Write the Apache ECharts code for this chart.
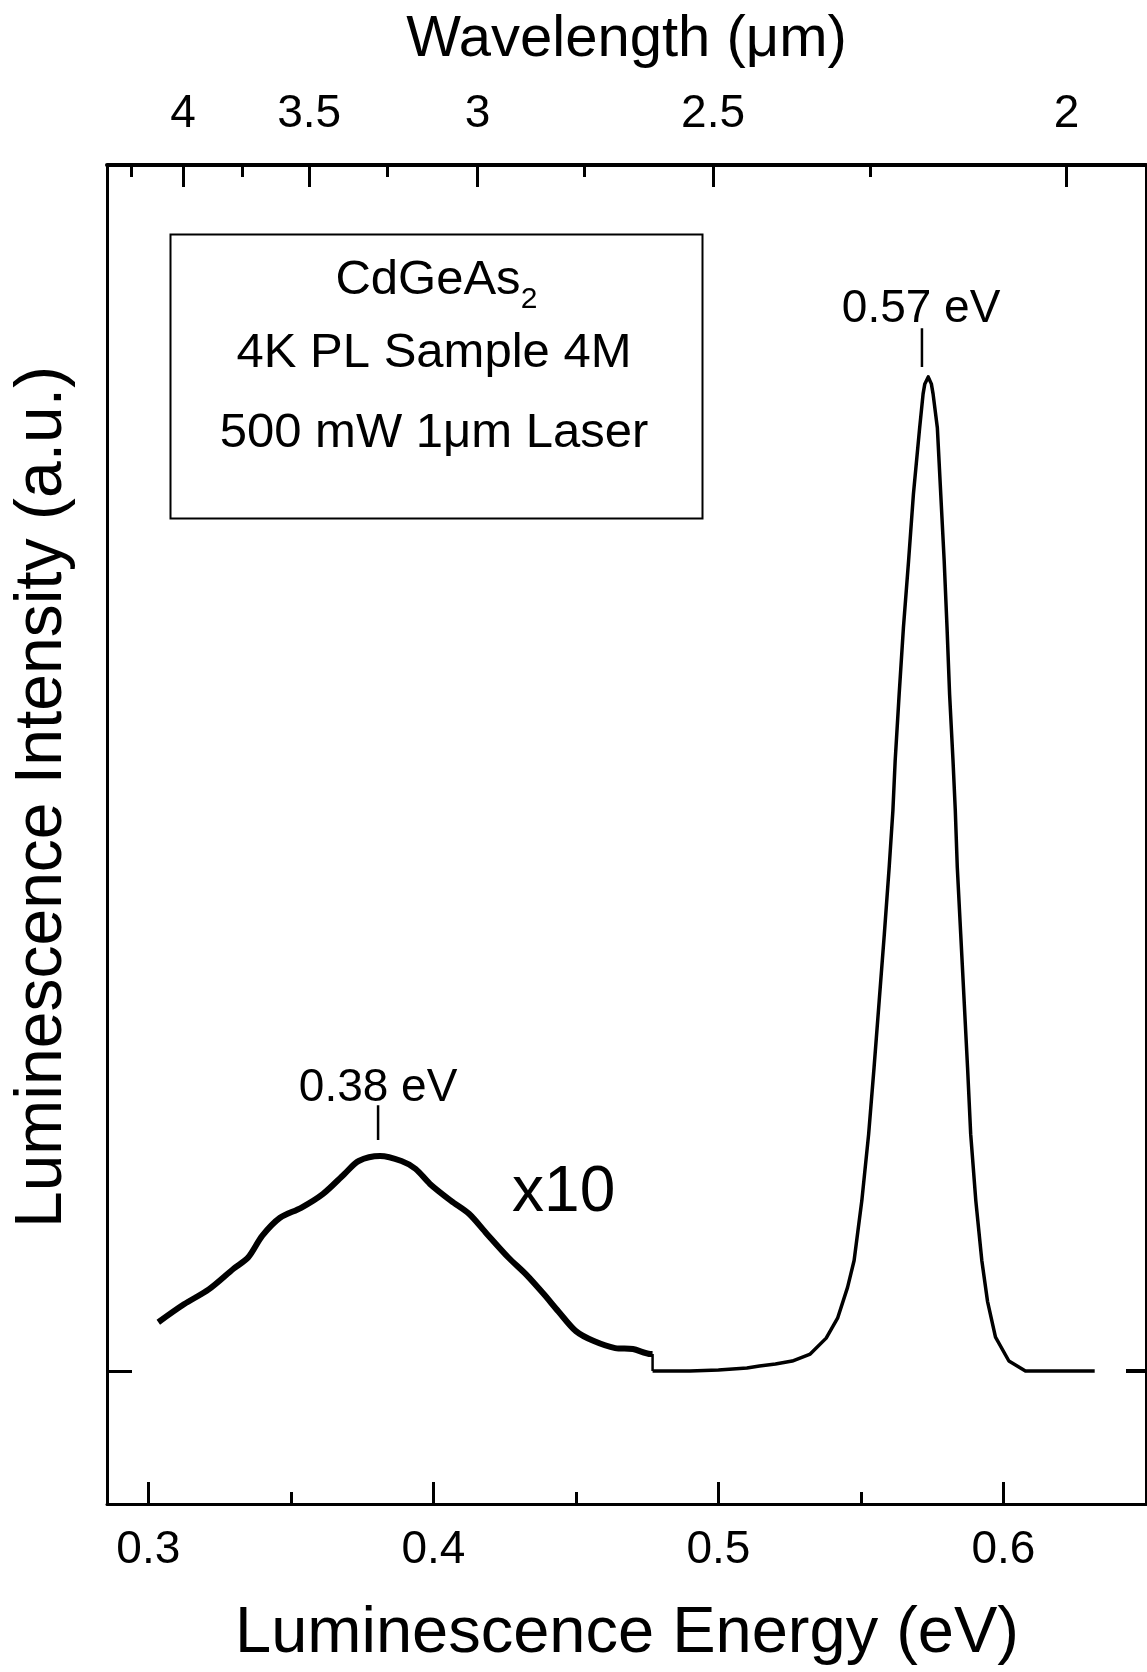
<!DOCTYPE html>
<html>
<head>
<meta charset="utf-8">
<script src="https://cdn.jsdelivr.net/npm/echarts@6/dist/echarts.min.js"></script>
<style>
  html, body { margin: 0; padding: 0; background: #fff; }
  #chart { width: 1147px; height: 1672px; }
</style>
</head>
<body>
<div id="chart"></div>
<script>
// ---- data ----
const energyTicks = [0.3, 0.4, 0.5, 0.6];
const energyMinorTicks = [0.35, 0.45, 0.55];
const wavelengthTicks = [4, 3.5, 3, 2.5, 2];
const wavelengthMinorTicks = [4.25, 3.75, 3.25, 2.75, 2.25];
const HC = 1.2398; // eV·µm

// broad band (shown x10)
const bandEnergy = [0.3035, 0.3125, 0.3212, 0.3300, 0.3350, 0.3400, 0.3462, 0.3536, 0.3613, 0.3688, 0.3738, 0.3813, 0.3888, 0.3938, 0.3988, 0.4062, 0.4125, 0.4187, 0.4263, 0.4325, 0.4388, 0.4438, 0.4500, 0.4563, 0.4638, 0.4700, 0.4762, 0.4769];
const bandIntensity = [4.9, 6.7, 8.2, 10.3, 11.4, 13.6, 15.4, 16.4, 17.8, 19.8, 21.1, 21.6, 21.1, 20.3, 18.8, 17.1, 15.8, 13.8, 11.4, 9.7, 7.7, 6.0, 4.0, 3.0, 2.3, 2.2, 1.7, 1.7];

// step between the x10 band and the main spectrum
const stepEnergy = [0.4769, 0.4769];
const stepIntensity = [1.7, 0.0];

// main spectrum
const mainEnergy = [0.4769, 0.4900, 0.5000, 0.5100, 0.5144, 0.5200, 0.5259, 0.5322, 0.5378, 0.5418, 0.5453, 0.5476, 0.5503, 0.5527, 0.5546, 0.5564, 0.5582, 0.5599, 0.5612, 0.5620, 0.5634, 0.5649, 0.5667, 0.5684, 0.5706, 0.5718, 0.5724, 0.5736, 0.5747, 0.5753, 0.5768, 0.5780, 0.5792, 0.5802, 0.5811, 0.5823, 0.5831, 0.5838, 0.5850, 0.5862, 0.5874, 0.5885, 0.5903, 0.5924, 0.5944, 0.5972, 0.6019, 0.6077, 0.6150, 0.6250, 0.6320];
const mainIntensity = [0.0, 0.0, 0.1, 0.3, 0.5, 0.7, 1.0, 1.7, 3.3, 5.3, 8.4, 11.1, 17.1, 23.8, 30.5, 37.2, 43.9, 50.6, 56.3, 61.3, 68.0, 74.7, 81.4, 88.1, 94.8, 98.2, 99.2, 99.9, 99.2, 98.2, 94.8, 88.1, 81.4, 74.7, 68.0, 61.3, 56.3, 50.6, 43.9, 37.2, 30.5, 23.8, 17.1, 11.1, 7.0, 3.4, 1.0, 0.0, 0.0, 0.0, 0.0];

// annotations
const peakLabels = ['0.57 eV', '0.38 eV'];
const peakLabelEnergy = [0.5711, 0.3806];
const peakLabelIntensity = [106.7, 28.4];
const peakMarkEnergy = [0.5714, 0.3806];
const peakMarkBottom = [100.9, 23.2];
const peakMarkTop = [104.8, 26.7];
const scaleLabel = 'x10';
const scaleLabelPos = [0.4457, 17.8];

const XMIN = 0.2855, XMAX = 0.65;
const YMIN = -13.37, YMAX = 121.2;
const TOP_SHIFT = 0.0022;

const FONT = '"Liberation Sans", Arial, Helvetica, sans-serif';
const zip = (a, b) => a.map((v, i) => [v, b[i]]);

const chart = echarts.init(document.getElementById('chart'), null, { renderer: 'canvas' });

const black = '#000';
const tickStyle = { color: black, width: 3 };
const option = {
  backgroundColor: '#fff',
  animation: false,
  textStyle: { fontFamily: FONT, color: black },
  grid: { left: 107, right: 1, top: 165, bottom: 168, containLabel: false },
  xAxis: [
    {
      type: 'value', position: 'bottom', offset: 0, min: XMIN, max: XMAX,
      axisLine: { show: true, onZero: false, lineStyle: { color: black, width: 3 } },
      axisTick: { show: true, inside: true, length: 22, customValues: energyTicks, lineStyle: tickStyle },
      axisLabel: { show: true, customValues: energyTicks, fontSize: 46, fontFamily: FONT, color: black, margin: 23,
        formatter: v => v.toFixed(1) },
      splitLine: { show: false }
    },
    {
      type: 'value', position: 'bottom', offset: 0, min: XMIN, max: XMAX,
      axisLine: { show: false, onZero: false },
      axisTick: { show: true, inside: true, length: 12, customValues: energyMinorTicks, lineStyle: tickStyle },
      axisLabel: { show: false },
      splitLine: { show: false }
    },
    {
      type: 'value', position: 'top', offset: 0, min: XMIN - TOP_SHIFT, max: XMAX - TOP_SHIFT,
      name: 'Wavelength (\u03bcm)', nameLocation: 'middle', nameGap: 96,
      nameTextStyle: { fontSize: 58, fontFamily: FONT, color: black },
      axisLine: { show: true, onZero: false, lineStyle: { color: black, width: 4 } },
      axisTick: { show: true, inside: true, length: 22, customValues: wavelengthTicks.map(l => HC / l), lineStyle: tickStyle },
      axisLabel: { show: true, customValues: wavelengthTicks.map(l => HC / l), fontSize: 46, fontFamily: FONT, color: black, margin: 28,
        formatter: v => String(Math.round(HC / v * 100) / 100) },
      splitLine: { show: false }
    },
    {
      type: 'value', position: 'top', offset: 0, min: XMIN - TOP_SHIFT, max: XMAX - TOP_SHIFT,
      axisLine: { show: false, onZero: false },
      axisTick: { show: true, inside: true, length: 12, customValues: wavelengthMinorTicks.map(l => HC / l), lineStyle: tickStyle },
      axisLabel: { show: false },
      splitLine: { show: false }
    }
  ],
  yAxis: [
    {
      type: 'value', position: 'left', min: YMIN, max: YMAX,
      axisLine: { show: true, onZero: false, lineStyle: { color: black, width: 3 } },
      axisTick: { show: true, inside: true, length: 25, customValues: [0], lineStyle: tickStyle },
      axisLabel: { show: false },
      splitLine: { show: false }
    },
    {
      type: 'value', position: 'right', min: YMIN, max: YMAX,
      axisLine: { show: true, onZero: false, lineStyle: { color: black, width: 3 } },
      axisTick: { show: true, inside: true, length: 20, customValues: [0], lineStyle: { color: black, width: 4 } },
      axisLabel: { show: false },
      splitLine: { show: false }
    }
  ],
  series: [
    {
      name: 'band x10', type: 'line', xAxisIndex: 0, yAxisIndex: 0,
      data: zip(bandEnergy, bandIntensity), showSymbol: false, symbol: 'none',
      lineStyle: { color: black, width: 6 }, smooth: 0.3
    },
    {
      name: 'step', type: 'line', xAxisIndex: 0, yAxisIndex: 0,
      data: zip(stepEnergy, stepIntensity), showSymbol: false, symbol: 'none',
      lineStyle: { color: black, width: 2.5 }
    },
    {
      name: 'main', type: 'line', xAxisIndex: 0, yAxisIndex: 0,
      data: zip(mainEnergy, mainIntensity), showSymbol: false, symbol: 'none',
      lineStyle: { color: black, width: 3.5, join: 'round' }, smooth: false
    },
    {
      name: 'mark057', type: 'line', xAxisIndex: 0, yAxisIndex: 0, symbol: 'none',
      data: [[peakMarkEnergy[0], peakMarkBottom[0]], [peakMarkEnergy[0], peakMarkTop[0]]],
      lineStyle: { color: black, width: 2.5 }
    },
    {
      name: 'mark038', type: 'line', xAxisIndex: 0, yAxisIndex: 0, symbol: 'none',
      data: [[peakMarkEnergy[1], peakMarkBottom[1]], [peakMarkEnergy[1], peakMarkTop[1]]],
      lineStyle: { color: black, width: 2.5 }
    },
    {
      name: 'peak labels', type: 'scatter', xAxisIndex: 0, yAxisIndex: 0,
      symbolSize: 0, itemStyle: { color: '#fff', opacity: 1 },
      data: peakLabels.map((t, i) => ({ value: [peakLabelEnergy[i], peakLabelIntensity[i]], name: t })),
      label: { show: true, position: 'inside', formatter: p => p.name, fontSize: 46, fontFamily: FONT, color: '#000', opacity: 1, textBorderWidth: 0 }
    },
    {
      name: 'scale label', type: 'scatter', xAxisIndex: 0, yAxisIndex: 0,
      symbolSize: 0, itemStyle: { color: '#fff', opacity: 1 },
      data: [{ value: scaleLabelPos, name: scaleLabel }],
      label: { show: true, position: 'inside', formatter: p => p.name, fontSize: 64, fontFamily: FONT, color: '#000', opacity: 1, textBorderWidth: 0 }
    }
  ],
  graphic: [
    {
      type: 'rect', left: 168, top: 232, z: 10,
      shape: { width: 532, height: 284 },
      style: { fill: 'none', stroke: black, lineWidth: 2 }
    },
    {
      type: 'text', x: 428, y: 280, z: 10,
      style: { text: 'CdGeAs', fontSize: 49, fontFamily: FONT, fill: black, textAlign: 'center', textVerticalAlign: 'middle' }
    },
    {
      type: 'text', x: 529, y: 300, z: 10,
      style: { text: '2', fontSize: 30, fontFamily: FONT, fill: black, textAlign: 'center', textVerticalAlign: 'middle' }
    },
    {
      type: 'text', x: 434, y: 353, z: 10,
      style: { text: '4K PL Sample 4M', fontSize: 49, fontFamily: FONT, fill: black, textAlign: 'center', textVerticalAlign: 'middle' }
    },
    {
      type: 'text', x: 434, y: 433, z: 10,
      style: { text: '500 mW 1\u03bcm Laser', fontSize: 49, fontFamily: FONT, fill: black, textAlign: 'center', textVerticalAlign: 'middle' }
    },
    {
      type: 'text', x: 627, y: 1634, z: 10,
      style: { text: 'Luminescence Energy (eV)', fontSize: 65, fontFamily: FONT, fill: black, textAlign: 'center', textVerticalAlign: 'middle' }
    },
    {
      type: 'text', x: 43, y: 797, rotation: Math.PI / 2, z: 10,
      style: { text: 'Luminescence Intensity (a.u.)', fontSize: 66, fontFamily: FONT, fill: black, textAlign: 'center', textVerticalAlign: 'middle' }
    }
  ]
};
chart.setOption(option);
</script>
</body>
</html>
